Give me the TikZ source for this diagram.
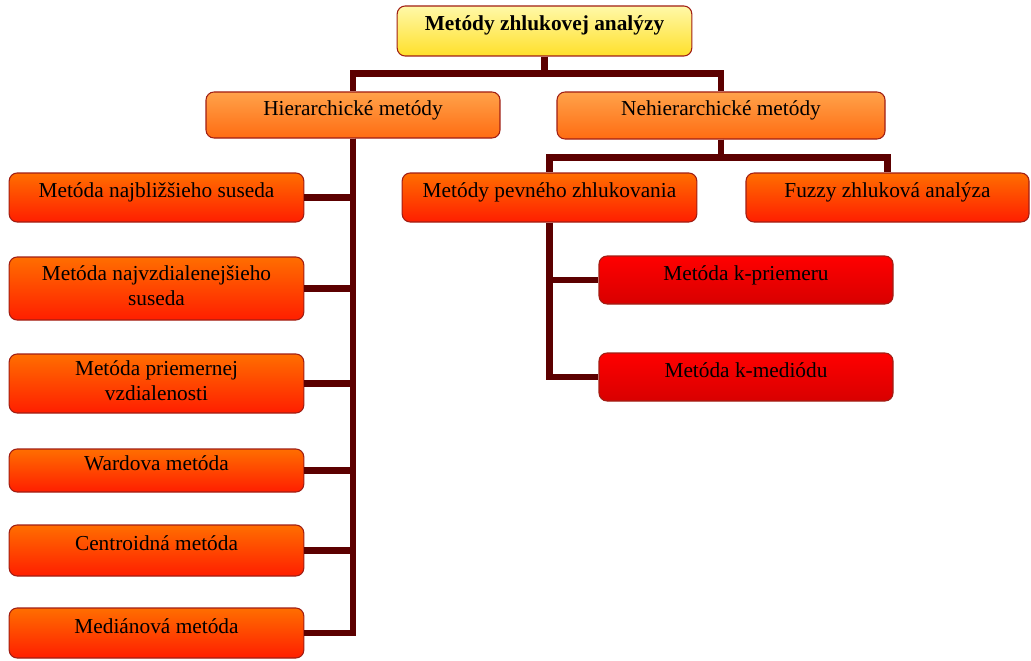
\documentclass[tikz,border=0pt]{standalone}
\usepackage{fontspec}
\setmainfont{Liberation Serif}
\usepackage{xcolor}
\usepackage{tikz}
\usetikzlibrary{calc}
\definecolor{conn}{HTML}{5C0000}
\definecolor{rim}{HTML}{A01E14}
\definecolor{yellowtop}{HTML}{FFF8A8}
\definecolor{yellowbot}{HTML}{FFE02A}
\definecolor{oratop}{HTML}{FFA24A}
\definecolor{orabot}{HTML}{FF6C12}
\definecolor{redtop}{HTML}{FF6E00}
\definecolor{redbot}{HTML}{FF1E00}
\definecolor{deeptop}{HTML}{FF0000}
\definecolor{deepbot}{HTML}{D80000}
\tikzset{
  box/.style={draw=rim, line width=0.8pt, rounded corners=6pt, align=center,
    font=\fontsize{16}{18.75}\selectfont, text height=11pt, text depth=11pt},
  twoline/.style={text height=30pt, text depth=5pt},
  rootbox/.style={box, top color=yellowtop, bottom color=yellowbot, font=\fontsize{16}{18.75}\selectfont\bfseries},
  mainbox/.style={box, top color=oratop, bottom color=orabot},
  subbox/.style={box, top color=redtop, bottom color=redbot},
  leafbox/.style={box, top color=deeptop, bottom color=deepbot},
  conn/.style={draw=conn, line width=5pt, line join=miter}
}
\begin{document}
\begin{tikzpicture}[x=0.75pt, y=-0.75pt]
  \useasboundingbox (0,0) rectangle (1031,660);

  \node[rootbox, minimum width=221pt, minimum height=37.5pt] (root) at (544.5,31) {Metódy zhlukovej analýzy};
  \node[mainbox, minimum width=220.5pt, minimum height=34.5pt] (hier) at (353,115) {Hierarchické metódy};
  \node[mainbox, minimum width=246pt, minimum height=35.25pt] (nehier) at (721,115.5) {Nehierarchické metódy};

  \node[subbox, minimum width=221pt, minimum height=36.75pt] (m1) at (156.5,197.5) {Metóda najbližšieho suseda};
  \node[subbox, twoline, minimum width=221pt, minimum height=47.25pt] (m2) at (156.5,288.5) {Metóda najvzdialenejšieho\\suseda};
  \node[subbox, twoline, minimum width=221pt, minimum height=44.25pt] (m3) at (156.5,383.5) {Metóda priemernej\\vzdialenosti};
  \node[subbox, minimum width=221pt, minimum height=32.25pt] (m4) at (156.5,470.5) {Wardova metóda};
  \node[subbox, minimum width=221pt, minimum height=38.25pt] (m5) at (156.5,550.5) {Centroidná metóda};
  \node[subbox, minimum width=221pt, minimum height=37.5pt] (m6) at (156.5,633) {Mediánová metóda};

  \node[subbox, minimum width=221pt, minimum height=36.75pt] (pev) at (549.5,197.5) {Metódy pevného zhlukovania};
  \node[subbox, minimum width=212.25pt, minimum height=36.75pt] (fuz) at (887.5,197.5) {Fuzzy zhluková analýza};
  \node[leafbox, minimum width=220.5pt, minimum height=36pt] (kp) at (746,280) {Metóda k-priemeru};
  \node[leafbox, minimum width=220.5pt, minimum height=36pt] (km) at (746,377) {Metóda k-mediódu};

  \draw[conn] (root.south) -- ++(0,17) -| (hier.north);
  \draw[conn] (root.south) -- ++(0,17) -| (nehier.north);
  \foreach \m in {m1,m2,m3,m4,m5,m6}
    \draw[conn] (hier.south) |- (\m.east);
  \draw[conn] (nehier.south) -- ++(0,18) -| (pev.north);
  \draw[conn] (nehier.south) -- ++(0,18) -| (fuz.north);
  \draw[conn] (pev.south) |- (kp.west);
  \draw[conn] (pev.south) |- (km.west);
\end{tikzpicture}
\end{document}
